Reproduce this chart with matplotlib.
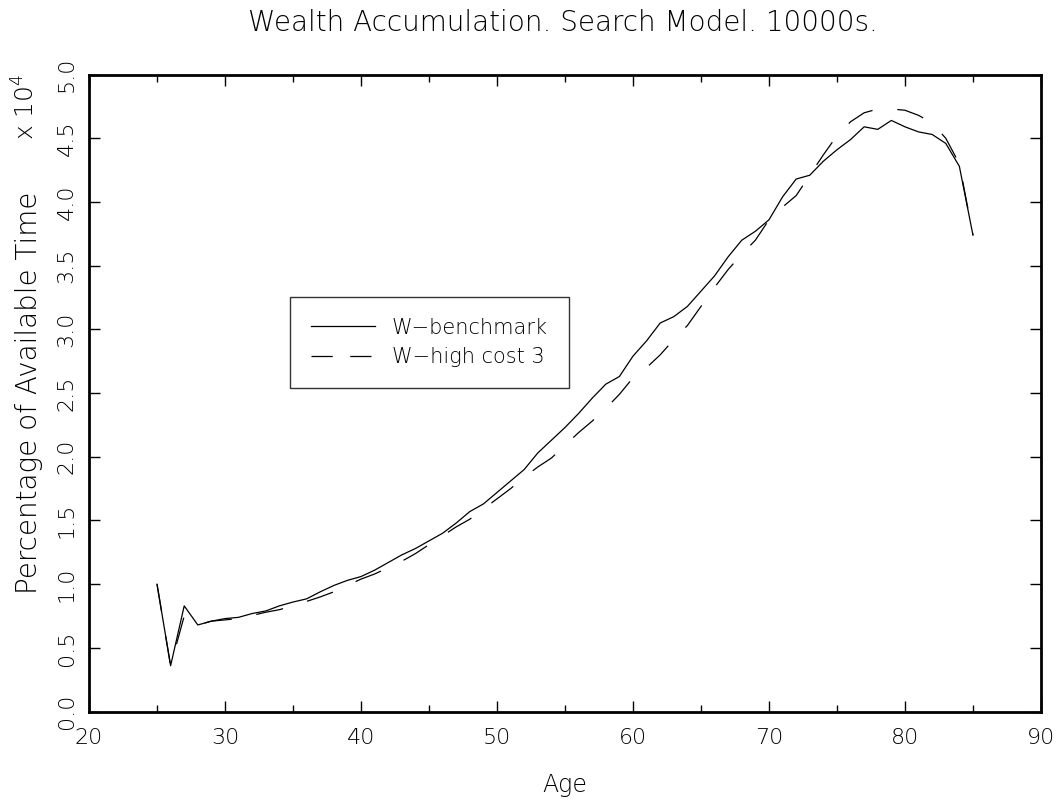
import matplotlib
matplotlib.use("Agg")
import matplotlib.pyplot as plt
from matplotlib import font_manager
from matplotlib.ticker import MultipleLocator

# thin, wide face closest to the plotter font; fall back to plain DejaVu Sans
thin = font_manager.findfont(font_manager.FontProperties(family="DejaVu Sans", weight=200))
plt.rcParams["font.family"] = ["DejaVu Sans"]
if "ExtraLight" in thin:
    plt.rcParams["font.weight"] = 200
    plt.rcParams["axes.labelweight"] = 200

# wealth, in units of 10^4
ages = list(range(25, 86))
w_benchmark = [
    1.00, 0.36, 0.83, 0.68, 0.71, 0.73, 0.74, 0.77, 0.79, 0.83,
    0.86, 0.885, 0.94, 0.99, 1.03, 1.06, 1.11, 1.17, 1.23, 1.28,
    1.34, 1.40, 1.48, 1.57, 1.63, 1.72, 1.81, 1.90, 2.03, 2.13,
    2.23, 2.34, 2.46, 2.57, 2.63, 2.79, 2.91, 3.05, 3.10, 3.18,
    3.30, 3.42, 3.57, 3.70, 3.77, 3.86, 4.04, 4.18, 4.21, 4.32,
    4.41, 4.49, 4.59, 4.57, 4.64, 4.59, 4.55, 4.53, 4.46, 4.28,
    3.74,
]
w_high_cost = [
    1.00, 0.36, 0.75, 0.68, 0.71, 0.72, 0.73, 0.755, 0.78, 0.80,
    0.83, 0.865, 0.90, 0.94, 0.99, 1.04, 1.08, 1.13, 1.18, 1.24,
    1.31, 1.38, 1.45, 1.51, 1.59, 1.67, 1.75, 1.84, 1.92, 1.99,
    2.09, 2.19, 2.28, 2.38, 2.49, 2.62, 2.70, 2.80, 2.92, 3.03,
    3.18, 3.33, 3.47, 3.59, 3.70, 3.86, 3.96, 4.05, 4.21, 4.37,
    4.52, 4.63, 4.70, 4.73, 4.73, 4.72, 4.68, 4.62, 4.50, 4.30,
    3.74,
]
labels = ["W\u2212benchmark", "W\u2212high cost 3"]

fig = plt.figure(figsize=(10.61, 8.01), dpi=100)
ax = fig.add_axes([0.0839, 0.1116, 0.8972, 0.7953])

ax.plot(ages, w_benchmark, color="black", lw=0.9, label=labels[0])
ax.plot(ages, w_high_cost, color="black", lw=0.9, dashes=(22, 20), label=labels[1])

ax.set_xlim(20, 90)
ax.set_ylim(0, 5)
ax.xaxis.set_major_locator(MultipleLocator(10))
ax.xaxis.set_minor_locator(MultipleLocator(5))
ax.tick_params(which="both", direction="in", top=True, right=True, width=1, labelsize=16)
ax.tick_params(which="major", length=8)
ax.tick_params(which="minor", length=5)
ax.tick_params(axis="x", pad=12)
ax.tick_params(axis="y", pad=9)
ax.set_yticks([i * 0.5 for i in range(11)])
ax.set_yticklabels([f"{i * 0.5:.1f}" for i in range(11)], rotation=90, va="center")
for s in ax.spines.values():
    s.set_linewidth(2)

ax.set_xlabel("Age", fontsize=17, labelpad=18)
ax.set_ylabel("Percentage of Available Time", fontsize=20, labelpad=10)
ax.text(-0.066, 0.95, "x 10$^4$", transform=ax.transAxes, rotation=90,
        ha="center", va="center", fontsize=18)
fig.text(0.531, 0.971, "Wealth Accumulation. Search Model. 10000s.",
         ha="center", va="center", fontsize=20)

leg = ax.legend(loc="upper left", bbox_to_anchor=(0.211, 0.651), fontsize=15,
                frameon=True, fancybox=False, edgecolor="black", handlelength=3.1,
                borderpad=1.0, handletextpad=0.8, labelspacing=0.45, borderaxespad=0)
leg.get_frame().set_linewidth(1.0)
# two equal dashes in the legend sample, as in the original
leg.get_lines()[1].set_dashes((17, 14))

fig.savefig("out.png", dpi=100)
